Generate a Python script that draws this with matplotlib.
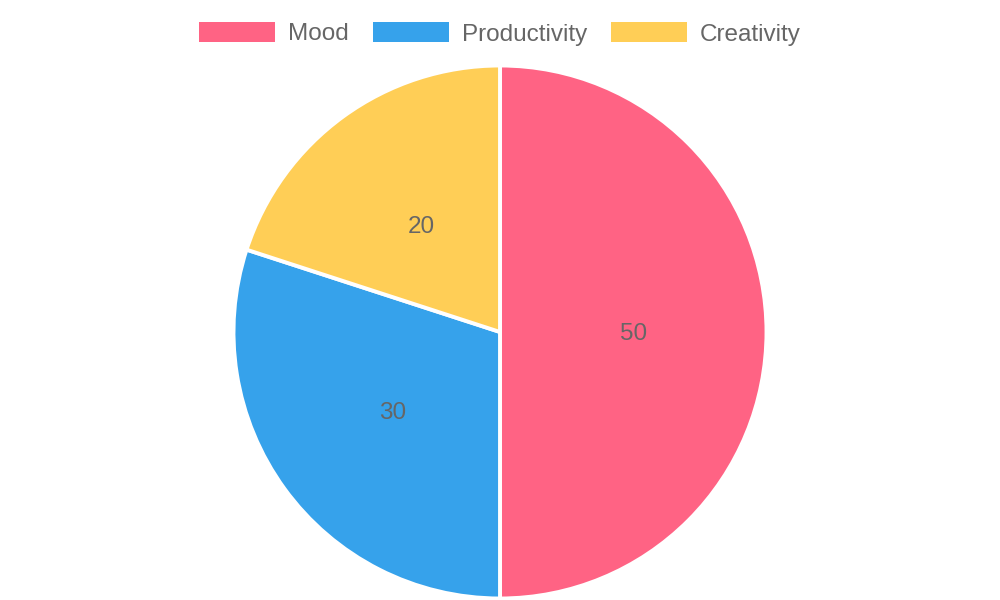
import matplotlib.pyplot as plt
from matplotlib.patches import Rectangle

plt.rcParams['font.family'] = ['Liberation Sans', 'DejaVu Sans']

labels = ['Mood', 'Productivity', 'Creativity']
values = [50, 30, 20]
colors = ['#FF6384', '#36A2EB', '#FFCE56']
text_color = '#666666'

fig = plt.figure(figsize=(10, 6), dpi=100)
ax = fig.add_axes([0, 0, 1, 1])

# pie, centred at (500, 332) px from top
wedges, texts = ax.pie(values, colors=colors, startangle=90, counterclock=False,
                       center=(500, 600 - 332), radius=266.5,
                       labels=[str(v) for v in values], labeldistance=0.5,
                       wedgeprops=dict(edgecolor='white', linewidth=2.8),
                       textprops=dict(color=text_color, fontsize=17.5, ha='center',
                                      va='center_baseline'),
                       frame=True)
ax.set_xlim(0, 1000)
ax.set_ylim(0, 600)
ax.axis('off')

# legend drawn by hand, Chart.js style
box_x = [199, 373, 611]
for x, lab, col in zip(box_x, labels, colors):
    ax.add_patch(Rectangle((x, 600 - 42), 76, 20, facecolor=col, edgecolor='none'))
    ax.text(x + 89, 600 - 32, lab, color=text_color, fontsize=17.5,
            ha='left', va='center_baseline')

fig.savefig('out.png', dpi=100)
